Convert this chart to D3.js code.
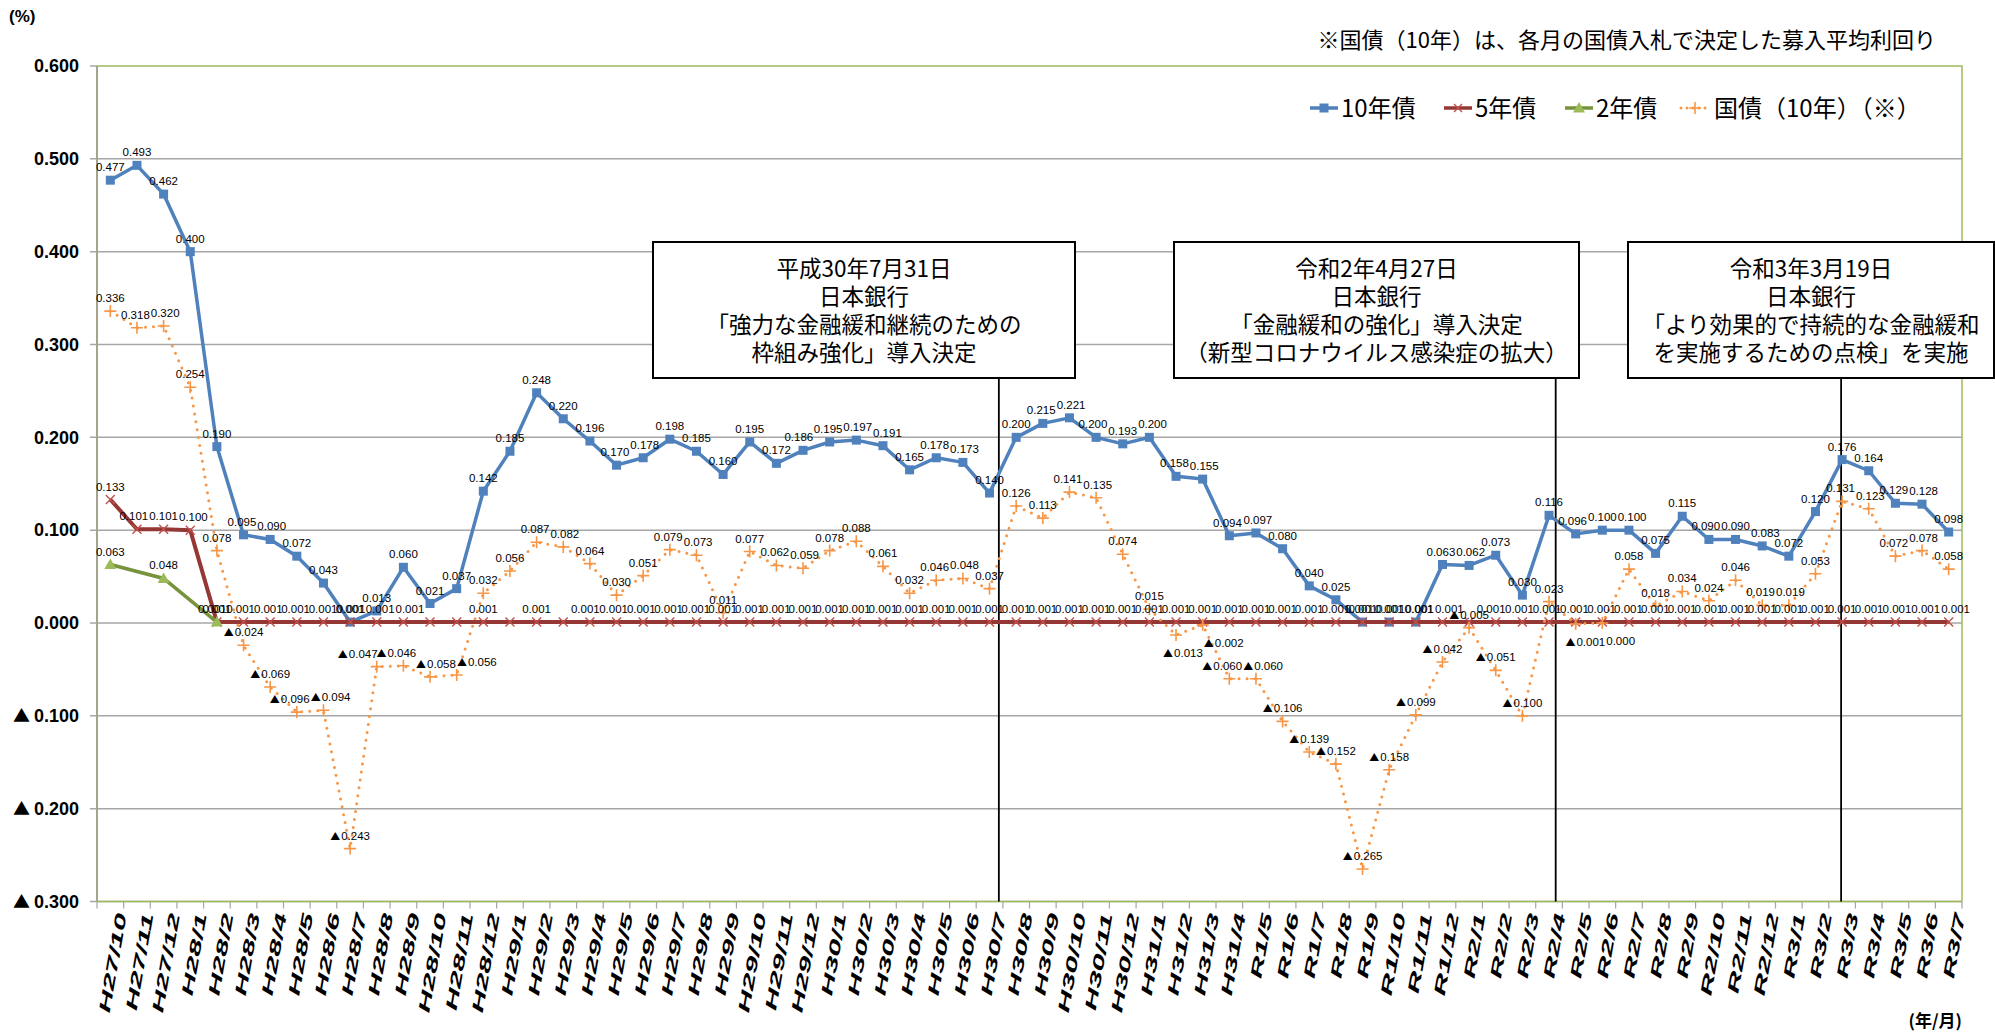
<!DOCTYPE html>
<html>
<head>
<meta charset="utf-8">
<script src="https://cdn.jsdelivr.net/npm/d3@7"></script>
<style>
  body { margin: 0; background: #ffffff; }
  svg { display: block; }
</style>
</head>
<body>
<div id="d3"></div>
<script>
// months on the x axis (年/月)
const months = [
    "H27/10", "H27/11", "H27/12",
    "H28/1", "H28/2", "H28/3", "H28/4", "H28/5", "H28/6", "H28/7", "H28/8", "H28/9", "H28/10", "H28/11", "H28/12",
    "H29/1", "H29/2", "H29/3", "H29/4", "H29/5", "H29/6", "H29/7", "H29/8", "H29/9", "H29/10", "H29/11", "H29/12",
    "H30/1", "H30/2", "H30/3", "H30/4", "H30/5", "H30/6", "H30/7", "H30/8", "H30/9", "H30/10", "H30/11", "H30/12",
    "H31/1", "H31/2", "H31/3", "H31/4",
    "R1/5", "R1/6", "R1/7", "R1/8", "R1/9", "R1/10", "R1/11", "R1/12",
    "R2/1", "R2/2", "R2/3", "R2/4", "R2/5", "R2/6", "R2/7", "R2/8", "R2/9", "R2/10", "R2/11", "R2/12",
    "R3/1", "R3/2", "R3/3", "R3/4", "R3/5", "R3/6", "R3/7"
];

// 10年債
const bond10 = [
    0.477, 0.493, 0.462,
    0.400, 0.190, 0.095, 0.090, 0.072, 0.043, 0.001, 0.013, 0.060, 0.021, 0.037, 0.142,
    0.185, 0.248, 0.220, 0.196, 0.170, 0.178, 0.198, 0.185, 0.160, 0.195, 0.172, 0.186,
    0.195, 0.197, 0.191, 0.165, 0.178, 0.173, 0.140, 0.200, 0.215, 0.221, 0.200, 0.193,
    0.200, 0.158, 0.155, 0.094,
    0.097, 0.080, 0.040, 0.025, 0.001, 0.001, 0.001, 0.063,
    0.062, 0.073, 0.030, 0.116, 0.096, 0.100, 0.100, 0.075, 0.115, 0.090, 0.090, 0.083,
    0.072, 0.120, 0.176, 0.164, 0.129, 0.128, 0.098
];

// 5年債
const bond5 = [
    0.133, 0.101, 0.101,
    0.100, 0.001, 0.001, 0.001, 0.001, 0.001, 0.001, 0.001, 0.001, 0.001, 0.001, 0.001,
    0.001, 0.001, 0.001, 0.001, 0.001, 0.001, 0.001, 0.001, 0.001, 0.001, 0.001, 0.001,
    0.001, 0.001, 0.001, 0.001, 0.001, 0.001, 0.001, 0.001, 0.001, 0.001, 0.001, 0.001,
    0.001, 0.001, 0.001, 0.001,
    0.001, 0.001, 0.001, 0.001, 0.001, 0.001, 0.001, 0.001,
    0.001, 0.001, 0.001, 0.001, 0.001, 0.001, 0.001, 0.001, 0.001, 0.001, 0.001, 0.001,
    0.001, 0.001, 0.001, 0.001, 0.001, 0.001, 0.001
];

// 2年債 (only the first months)
const bond2 = [
    0.063, null, 0.048,
    null, 0.001
];

// 国債（10年）募入平均利回り
const auction10 = [
    0.336, 0.318, 0.320,
    0.254, 0.078, -0.024, -0.069, -0.096, -0.094, -0.243, -0.047, -0.046, -0.058, -0.056, 0.032,
    0.056, 0.087, 0.082, 0.064, 0.030, 0.051, 0.079, 0.073, 0.011, 0.077, 0.062, 0.059,
    0.078, 0.088, 0.061, 0.032, 0.046, 0.048, 0.037, 0.126, 0.113, 0.141, 0.135, 0.074,
    0.015, -0.013, -0.002, -0.060,
    -0.060, -0.106, -0.139, -0.152, -0.265, -0.158, -0.099, -0.042,
    -0.005, -0.051, -0.100, 0.023, -0.001, 0.000, 0.058, 0.018, 0.034, 0.024, 0.046, 0.019,
    0.019, 0.053, 0.131, 0.123, 0.072, 0.078, 0.058
];

// months whose 5年債 label is left out in the original
const bond5NoLabel = ["H28/10", "H28/11", "H29/1", "H29/3", "R2/1"];
// months whose 国債 label sits under the marker
const auctionLabelBelow = ["H31/2", "H31/3", "R2/5", "R2/6"];

const yTicks = [0.6, 0.5, 0.4, 0.3, 0.2, 0.1, 0.0, -0.1, -0.2, -0.3];

const seriesNames = ["10年債", "5年債", "2年債", "国債（10年）（※）"];

// BOJ decisions: month, day, box text
const events = [
    { month: "H30/7", day: 31, days: 31, lines: ["平成30年7月31日", "日本銀行", "「強力な金融緩和継続のための", "枠組み強化」導入決定"] },
    { month: "R2/4", day: 27, days: 30, lines: ["令和2年4月27日", "日本銀行", "「金融緩和の強化」導入決定", "（新型コロナウイルス感染症の拡大）"] },
    { month: "R3/3", day: 19, days: 31, lines: ["令和3年3月19日", "日本銀行", "「より効果的で持続的な金融緩和", "を実施するための点検」を実施"] }
];

const noteText = "※国債（10年）は、各月の国債入札で決定した募入平均利回り";

// ---- layout ----
const width = 1995;
const height = 1036;
const plot = { left: 97, right: 1962, top: 66, bottom: 901.5 };
const boxes = [
    { x0: 653, x1: 1075 },
    { x0: 1174, x1: 1579 },
    { x0: 1628, x1: 1994 }
];
const boxTop = 242;
const boxBottom = 378;

const colors = {
    bond10: "#4f81bd",
    bond5: "#953735",
    bond5Marker: "#c0504d",
    bond2: "#77933c",
    bond2Marker: "#9bbb59",
    auction: "#f79646",
    grid: "#a6a6a6",
    border: "#9bbb59"
};

const jpFont = "'Noto Sans CJK JP', sans-serif";
const numFont = "'Liberation Sans Narrow', 'Liberation Sans', Arial, sans-serif";
const axisFont = "'Liberation Sans', Arial, sans-serif";

// writes a value as text, negative values get a ▲ in front
function setValue(sel, v, triSize, gap) {
    const s = d3.format(".3f")(Math.abs(v));
    if (v < 0) {
        sel.append("tspan")
            .style("font-family", jpFont)
            .style("font-size", triSize)
            .text("▲");
        sel.append("tspan")
            .attr("dx", gap)
            .text(s);
    } else {
        sel.text(s);
    }
}

// push neighbouring labels of one series apart when they collide
function spreadLabels(sel) {
    const items = sel.nodes().map((n) => ({ n: n, b: n.getBBox(), dx: 0 }));
    for (let pass = 0; pass < 4; pass++) {
        for (let i = 1; i < items.length; i++) {
            const a = items[i - 1];
            const c = items[i];
            const sameRow = a.b.y < c.b.y + c.b.height - 3 && c.b.y < a.b.y + a.b.height - 3;
            const aRight = a.b.x + a.b.width + a.dx;
            const cLeft = c.b.x + c.dx;
            if (sameRow && aRight + 1 > cLeft) {
                const o = (aRight + 1 - cLeft) / 2;
                a.dx -= o;
                c.dx += o;
            }
        }
    }
    items.forEach((it) => {
        const el = d3.select(it.n);
        el.attr("x", +el.attr("x") + it.dx);
    });
}

function drawChart() {
    const svg = d3
        .select("#d3")
        .append("svg")
        .attr("width", width)
        .attr("height", height);

    const x = d3.scaleBand()
        .domain(months)
        .range([plot.left, plot.right]);
    const cx = (m) => x(m) + x.bandwidth() / 2;

    const y = d3.scaleLinear()
        .domain([-0.3, 0.6])
        .range([plot.bottom, plot.top]);

    // gridlines (with the outside tick on the left)
    svg.append("g")
        .selectAll("line")
        .data(yTicks.filter((t) => t < 0.6))
        .join("line")
        .attr("x1", plot.left - 7)
        .attr("x2", plot.right)
        .attr("y1", (d) => y(d))
        .attr("y2", (d) => y(d))
        .style("stroke", colors.grid)
        .style("stroke-width", 1.5);

    // plot border top / right
    svg.append("path")
        .attr("d", `M${plot.left},${y(0.6)}H${plot.right}V${plot.bottom}`)
        .style("fill", "none")
        .style("stroke", colors.border)
        .style("stroke-width", 1.5);

    svg.append("line")
        .attr("x1", plot.left - 7)
        .attr("x2", plot.left)
        .attr("y1", y(0.6))
        .attr("y2", y(0.6))
        .style("stroke", colors.grid)
        .style("stroke-width", 1.5);

    // y axis line
    svg.append("line")
        .attr("x1", plot.left)
        .attr("x2", plot.left)
        .attr("y1", plot.top)
        .attr("y2", plot.bottom)
        .style("stroke", "#a5a58f")
        .style("stroke-width", 2);

    // y tick labels
    svg.append("g")
        .selectAll("text")
        .data(yTicks)
        .join("text")
        .attr("x", 79)
        .attr("y", (d) => y(d))
        .attr("dy", "0.35em")
        .attr("text-anchor", "end")
        .style("font-family", axisFont)
        .style("font-weight", "bold")
        .style("font-size", "18px")
        .each(function (d) {
            setValue(d3.select(this), d, "17px", 4);
        });

    svg.append("text")
        .attr("x", 9)
        .attr("y", 22)
        .style("font-family", axisFont)
        .style("font-weight", "bold")
        .style("font-size", "17px")
        .text("(%)");

    // x axis with ticks between the months
    const xAxis = svg.append("g");
    xAxis.append("line")
        .attr("x1", plot.left)
        .attr("x2", plot.right)
        .attr("y1", plot.bottom)
        .attr("y2", plot.bottom)
        .style("stroke", colors.border)
        .style("stroke-width", 1.5);
    xAxis.selectAll("line.tick")
        .data(months.concat(["end"]))
        .join("line")
        .attr("class", "tick")
        .attr("x1", (d, i) => plot.left + i * x.bandwidth())
        .attr("x2", (d, i) => plot.left + i * x.bandwidth())
        .attr("y1", plot.bottom)
        .attr("y2", plot.bottom + 7)
        .style("stroke", "#a6a6a6")
        .style("stroke-width", 1.2);

    // month labels: steep and drawn long, like the exported chart
    xAxis.selectAll("text")
        .data(months)
        .join("text")
        .attr("transform", (d) => `translate(${cx(d) + 11},${plot.bottom + 12}) rotate(-80) scale(1.95,1)`)
        .attr("dy", "0.35em")
        .attr("text-anchor", "end")
        .style("font-family", axisFont)
        .style("font-weight", "bold")
        .style("font-style", "italic")
        .style("font-size", "16px")
        .text((d) => d);

    svg.append("text")
        .attr("x", 1962)
        .attr("y", 1027)
        .attr("text-anchor", "end")
        .style("font-family", jpFont)
        .style("font-weight", "bold")
        .style("font-size", "17px")
        .text("(年/月)");

    // event lines and boxes
    events.forEach((ev, i) => {
        const lx = cx(ev.month) + (ev.day / ev.days - 0.5) * x.bandwidth() - 4;
        svg.append("line")
            .attr("x1", lx)
            .attr("x2", lx)
            .attr("y1", boxBottom)
            .attr("y2", plot.bottom)
            .style("stroke", "#000")
            .style("stroke-width", 1.8);

        const b = boxes[i];
        svg.append("rect")
            .attr("x", b.x0)
            .attr("y", boxTop)
            .attr("width", b.x1 - b.x0)
            .attr("height", boxBottom - boxTop)
            .style("fill", "#fff")
            .style("stroke", "#000")
            .style("stroke-width", 2);

        svg.append("text")
            .attr("text-anchor", "middle")
            .style("font-family", jpFont)
            .style("font-size", "22.5px")
            .style("fill", "#000")
            .selectAll("tspan")
            .data(ev.lines)
            .join("tspan")
            .attr("x", (b.x0 + b.x1) / 2)
            .attr("y", (d, k) => boxTop + 35 + k * 28)
            .text((d) => d);
    });

    // series lines
    const line = d3.line()
        .x((d) => cx(d.m))
        .y((d) => y(d.v));

    const pts = (arr) => arr
        .map((v, i) => ({ m: months[i], v: v }))
        .filter((d) => d.v !== null);

    const p10 = pts(bond10);
    const p5 = pts(bond5);
    const p2 = pts(bond2);
    const pa = pts(auction10);

    svg.append("path")
        .attr("d", line(p10))
        .style("fill", "none")
        .style("stroke", colors.bond10)
        .style("stroke-width", 3.5)
        .style("stroke-linejoin", "round");

    svg.append("g")
        .selectAll("rect")
        .data(p10)
        .join("rect")
        .attr("x", (d) => cx(d.m) - 4.5)
        .attr("y", (d) => y(d.v) - 4.5)
        .attr("width", 9)
        .attr("height", 9)
        .style("fill", colors.bond10);

    svg.append("path")
        .attr("d", line(p5))
        .style("fill", "none")
        .style("stroke", colors.bond5)
        .style("stroke-width", 4)
        .style("stroke-linejoin", "round");

    svg.append("g")
        .selectAll("path")
        .data(p5)
        .join("path")
        .attr("d", (d) => {
            const px = cx(d.m), py = y(d.v), r = 4.5;
            return `M${px - r},${py - r}L${px + r},${py + r}M${px - r},${py + r}L${px + r},${py - r}`;
        })
        .style("stroke", colors.bond5Marker)
        .style("stroke-width", 1.4);

    svg.append("path")
        .attr("d", line(p2))
        .style("fill", "none")
        .style("stroke", colors.bond2)
        .style("stroke-width", 3.5);

    svg.append("g")
        .selectAll("path")
        .data(p2)
        .join("path")
        .attr("d", (d) => {
            const px = cx(d.m), py = y(d.v);
            return `M${px},${py - 6}L${px + 6},${py + 4.5}L${px - 6},${py + 4.5}Z`;
        })
        .style("fill", colors.bond2Marker);

    svg.append("path")
        .attr("d", line(pa))
        .style("fill", "none")
        .style("stroke", colors.auction)
        .style("stroke-width", 3)
        .style("stroke-dasharray", "0 8")
        .style("stroke-linecap", "round");

    svg.append("g")
        .selectAll("path")
        .data(pa)
        .join("path")
        .attr("d", (d) => {
            const px = cx(d.m), py = y(d.v), r = 6;
            return `M${px - r},${py}H${px + r}M${px},${py - r}V${py + r}`;
        })
        .style("stroke", colors.auction)
        .style("stroke-width", 1.6);

    // data labels
    const labels = svg.append("g")
        .style("font-family", numFont)
        .style("font-size", "11.5px")
        .style("fill", "#000");

    function addLabels(data, below) {
        const sel = labels.append("g")
            .selectAll("text")
            .data(data)
            .join("text")
            .attr("x", (d) => cx(d.m) + (below && below.includes(d.m) ? 14 : 0))
            .attr("y", (d) => y(d.v) + (below && below.includes(d.m) ? 22 : -9))
            .attr("text-anchor", "middle")
            .each(function (d) {
                setValue(d3.select(this), d.v, "10px", 1);
            });
        spreadLabels(sel);
    }

    addLabels(p10);
    addLabels(p5.filter((d) => !bond5NoLabel.includes(d.m)));
    addLabels(p2);
    addLabels(pa, auctionLabelBelow);

    // note + legend
    svg.append("text")
        .attr("x", 1936)
        .attr("y", 48)
        .attr("text-anchor", "end")
        .style("font-family", jpFont)
        .style("font-size", "22px")
        .text(noteText);

    const legendX = [1310, 1444, 1565, 1679];
    const legendColors = [colors.bond10, colors.bond5, colors.bond2, colors.auction];
    const legend = svg.append("g");
    seriesNames.forEach((name, i) => {
        const lx = legendX[i];
        const ly = 108;
        const g = legend.append("g");
        if (i === 3) {
            g.append("line")
                .attr("x1", lx + 2).attr("x2", lx + 30)
                .attr("y1", ly).attr("y2", ly)
                .style("stroke", legendColors[i])
                .style("stroke-width", 3)
                .style("stroke-dasharray", "0 6")
                .style("stroke-linecap", "round");
            g.append("path")
                .attr("d", `M${lx + 10},${ly}H${lx + 22}M${lx + 16},${ly - 6}V${ly + 6}`)
                .style("stroke", legendColors[i])
                .style("stroke-width", 1.6);
        } else {
            g.append("line")
                .attr("x1", lx).attr("x2", lx + 28)
                .attr("y1", ly).attr("y2", ly)
                .style("stroke", legendColors[i])
                .style("stroke-width", 3.5);
            if (i === 0) {
                g.append("rect")
                    .attr("x", lx + 9.5).attr("y", ly - 4.5)
                    .attr("width", 9).attr("height", 9)
                    .style("fill", colors.bond10);
            } else if (i === 1) {
                g.append("path")
                    .attr("d", `M${lx + 10},${ly - 4}L${lx + 18},${ly + 4}M${lx + 10},${ly + 4}L${lx + 18},${ly - 4}`)
                    .style("stroke", colors.bond5Marker)
                    .style("stroke-width", 1.4);
            } else {
                g.append("path")
                    .attr("d", `M${lx + 14},${ly - 6}L${lx + 20},${ly + 4.5}L${lx + 8},${ly + 4.5}Z`)
                    .style("fill", colors.bond2Marker);
            }
        }
        g.append("text")
            .attr("x", lx + (i === 3 ? 35 : 31))
            .attr("y", ly)
            .attr("dy", "0.36em")
            .style("font-family", jpFont)
            .style("font-size", "24px")
            .text(name);
    });
}

drawChart();
</script>
</body>
</html>
